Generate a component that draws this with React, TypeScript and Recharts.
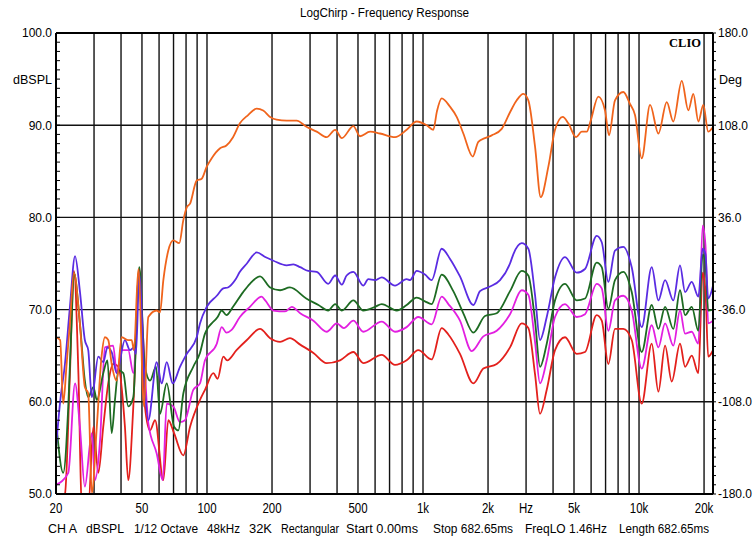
import React from 'react';
import { LineChart, Line, XAxis, YAxis, ReferenceLine } from 'recharts';

// [Hz, dBSPL] readings for each trace
type Pt = [number, number];

const ORANGE: Pt[] = [
  [20, 67], [20.9, 66.7], [21.6, 59.8], [22.4, 64.1], [23.2, 68.5], [24.2, 74], [25.8, 68.5],
  [27.2, 61.6], [28.2, 60.9], [29.3, 50.1], [30.9, 57.3], [32.5, 64.9], [33.7, 67], [34.9, 66.7],
  [36.2, 64.1], [38.2, 62.3], [40.3, 67], [43.2, 66.7], [44.8, 66.7], [45.9, 65.6], [48.1, 74.4],
  [51.1, 59.5], [53.5, 69.2], [58.5, 69.9], [60.6, 69.7], [62.8, 73.2], [66.2, 76.4], [69.8, 77.5],
  [74.4, 77.2], [77.7, 79.7], [80.6, 81.1], [83.5, 81.5], [89.6, 84], [94.5, 84.2], [99.7, 85.5],
  [105, 86.4], [115, 87.5], [123, 87.8], [132, 88.7], [142, 90.2], [155, 91.1], [170, 91.8],
  [182, 91.6], [196, 90.9], [210, 90.6], [234, 90.5], [260, 90.5], [290, 89.8], [322, 89.3],
  [358, 88.7], [392, 89.5], [421, 88.6], [476, 89.9], [511, 88.8], [569, 89.3], [632, 89.1],
  [742, 88.7], [840, 89.5], [935, 90.4], [1040, 90], [1116, 89.5], [1160, 91.5], [1220, 92.9],
  [1334, 92], [1432, 90.9], [1537, 89.1], [1699, 86.6], [1803, 88.2], [1936, 88.6], [2080, 88.9],
  [2314, 89.6], [2528, 91.4], [2715, 92.7], [2913, 93.4], [3073, 92.7], [3300, 87.7], [3507, 82.2],
  [3804, 85.5], [4084, 89.5], [4434, 90.9], [4707, 90.2], [5108, 88.7], [5429, 89.3], [5727, 89.3],
  [5976, 90.5], [6480, 93.1], [6960, 91.6], [7260, 88.9], [7740, 92.7], [8460, 93.6], [9080, 92.3],
  [9580, 91.1], [10290, 86.4], [11250, 92.2], [12290, 89.1], [13440, 92.5], [14410, 90.4],
  [15770, 94.8], [16910, 91.6], [17840, 93.4], [18820, 90.4], [19850, 92.2], [20900, 89.3],
  [22000, 89.8],
];

const PURPLE: Pt[] = [
  [20, 55], [20.9, 60], [22, 64.1], [23.2, 70.3], [24.5, 75.8], [25.8, 72], [27.2, 66.7],
  [28.2, 65.6], [29.3, 60.5], [31.4, 64.9], [33.1, 64.3], [34.6, 65.9], [36.2, 65.4], [38.2, 63.1],
  [41.7, 66.7], [44, 65.6], [45.9, 65.9], [46.9, 65.2], [48.6, 73.8], [51.6, 61.3], [53.5, 58],
  [58.5, 64.3], [61.7, 62], [65.1, 64.3], [69.4, 62], [75, 63.8], [80.6, 65.2], [89.6, 67],
  [92.8, 68.5], [99.7, 70.3], [111, 71.5], [119, 72.3], [125, 72.4], [135, 73.2], [142, 74.1],
  [153, 75], [170, 76.2], [186, 75.7], [203, 75.3], [234, 74.8], [251, 74.9], [270, 74.6],
  [294, 74.2], [322, 74.1], [364, 72.8], [392, 73.7], [421, 72.7], [443, 73.7], [476, 74.1],
  [529, 72.6], [558, 73.3], [600, 73.2], [644, 73.5], [742, 72.6], [840, 73.3], [871, 73.2],
  [935, 74.2], [1021, 73.8], [1097, 73.2], [1220, 76.6], [1334, 75.5], [1483, 73.6], [1710, 70.5],
  [1836, 72], [2043, 72.5], [2273, 73.2], [2528, 75], [2618, 76], [2863, 77.2], [3073, 76.6],
  [3300, 71.6], [3480, 66.7], [3739, 69.2], [4084, 73.5], [4544, 75.7], [5147, 74], [5623, 74.4],
  [6370, 78], [6720, 77.3], [7210, 73], [7740, 76.4], [8460, 76.8], [9250, 74.6], [10290, 68.1],
  [11450, 74.6], [12290, 71], [13200, 73.2], [14410, 71], [15480, 74.8], [16330, 71.9],
  [17540, 73], [18820, 71.4], [19700, 76.6], [20300, 76], [20900, 71.2], [22000, 72.6],
];

const GREEN: Pt[] = [
  [20, 58], [21.6, 52.3], [22.8, 59.5], [23.6, 68.5], [24.2, 74], [25.8, 68.5], [27.2, 62.3],
  [28.2, 60.5], [29.8, 61.6], [30.9, 60.2], [33.1, 63.1], [34.6, 64.5], [36.2, 56.6], [37.5, 60.2],
  [38.9, 63.4], [41, 63.1], [43.2, 59.5], [45.6, 60.5], [48.6, 74.6], [51.6, 63.8], [54.5, 62.3],
  [58.1, 63.8], [60.6, 58.7], [65.1, 62], [70.4, 57.3], [73.7, 56.9], [77.7, 60.9], [86.4, 63.8],
  [92.8, 65.3], [97.9, 67.4], [112, 69.2], [117, 69.9], [123, 69.4], [132, 70.3], [147, 71.9],
  [158, 72.8], [176, 73.6], [196, 72.4], [218, 72.1], [242, 72.4], [288, 71.2], [328, 70.5],
  [364, 69.9], [392, 70.6], [421, 69.9], [476, 71], [529, 69.9], [600, 70.3], [644, 70.6],
  [756, 69.9], [840, 70.5], [935, 71.3], [1021, 70.9], [1097, 70.6], [1220, 73.8], [1381, 72],
  [1537, 69.6], [1710, 67.5], [1936, 69.3], [2194, 69.6], [2528, 72], [2863, 74.2], [3073, 73.7],
  [3300, 68.8], [3480, 63.8], [3739, 66.3], [4084, 71], [4544, 72.8], [5147, 71], [5623, 71.2],
  [6370, 75.1], [6720, 74.6], [7210, 70.1], [7740, 73.2], [8460, 74.1], [9250, 71.9],
  [10290, 65.4], [11450, 70.5], [12290, 67.9], [13200, 70.3], [14410, 67.9], [15480, 72.1],
  [16330, 69.4], [17540, 70.3], [18820, 67.7], [19700, 76], [20300, 75], [20900, 69.9], [22000, 70],
];

const MAGENTA: Pt[] = [
  [20, 51], [22.8, 52.3], [24.5, 62], [25.8, 57.3], [27.2, 50.8], [29.3, 56.6], [30.3, 51.5],
  [32, 55.9], [33.7, 65.9], [36.8, 66.1], [38.2, 63.1], [40.3, 65.6], [43.2, 65.6], [45.6, 63.1],
  [48.6, 74], [50.7, 66.7], [53.5, 57.7], [58.5, 54.4], [62.4, 51.5], [65.1, 59.8], [69.8, 59.5],
  [75, 57.8], [79.1, 58], [86.4, 61.3], [92.8, 62], [97.9, 64.5], [111, 66.3], [117, 68.1],
  [123, 67.5], [130, 67.8], [142, 69.2], [158, 70.3], [179, 71.4], [186, 71], [203, 69.9],
  [230, 69.8], [247, 70.3], [270, 69.6], [311, 68.8], [358, 67.6], [399, 68.5], [430, 68],
  [476, 68.8], [529, 67.6], [644, 68.7], [742, 67.6], [840, 68.1], [951, 69.2], [1097, 68.4],
  [1220, 71.4], [1310, 70.6], [1483, 68.8], [1681, 65.5], [1902, 67.1], [2194, 67.7], [2528, 69.5],
  [2863, 72.1], [3073, 71.6], [3300, 66.5], [3480, 62], [3739, 64.5], [4084, 69.2], [4544, 70.6],
  [5147, 69.2], [5623, 69.5], [6370, 72.8], [6720, 72.3], [7210, 67.7], [7740, 71], [8460, 71.5],
  [9250, 69.9], [10290, 63.6], [11450, 68.3], [12290, 65.9], [13200, 68.5], [14410, 66.1],
  [15480, 69.9], [16330, 67.4], [17540, 67.6], [18820, 66.3], [19700, 79.1], [20300, 77],
  [20900, 68.5], [22000, 68.8],
];

const RED: Pt[] = [
  [20, 49], [22, 50], [23.2, 63], [24.2, 74.2], [25.4, 63], [26.3, 49], [28.2, 48.5], [29.8, 57.3],
  [31.4, 52.3], [33.1, 57.3], [34.9, 62], [36.8, 64.1], [38.9, 63.8], [41.7, 57.3], [43.2, 51.5],
  [45.6, 59.5], [48.6, 74.4], [51.6, 59.5], [54.5, 56.9], [57.5, 58], [62.8, 51.5], [66.2, 58],
  [70.4, 56.6], [77.7, 54.2], [83.5, 57.3], [92.8, 60.2], [97.9, 61.3], [107, 63.1], [112, 62.5],
  [119, 64.9], [124, 64.5], [137, 65.6], [153, 66.7], [176, 67.9], [196, 66.9], [218, 66.5],
  [242, 66.9], [270, 66.2], [311, 65.3], [358, 64.2], [413, 64.5], [476, 65.4], [529, 64.2],
  [644, 65.1], [742, 64], [840, 64.5], [951, 65.6], [1097, 64.6], [1220, 68], [1310, 67.3],
  [1483, 65.2], [1710, 62], [1902, 63.6], [2194, 64.1], [2528, 65.9], [2863, 68.5], [3073, 68],
  [3300, 63], [3480, 58.7], [3739, 61.3], [4084, 65.6], [4544, 67], [5147, 65.2], [5623, 65.4],
  [6370, 69.4], [6720, 68.8], [7210, 64.1], [7740, 67.9], [8460, 67.9], [9250, 66.7],
  [10290, 59.8], [11450, 66.3], [12290, 61.1], [13200, 66.1], [14170, 62.2], [15480, 66.3],
  [16330, 63.8], [17540, 65], [18820, 63.1], [19700, 74], [20300, 72], [20900, 64.9], [22000, 65.6],
];

const X_TICKS = [20, 50, 100, 200, 500, 1000, 2000, 3000, 5000, 10000, 20000];
const X_LABELS = ['20', '50', '100', '200', '500', '1k', '2k', 'Hz', '5k', '10k', '20k'];
const GRID_HZ = [
  30, 40, 50, 60, 70, 80, 90, 100, 200, 300, 400, 500, 600, 700, 800, 900,
  1000, 2000, 3000, 4000, 5000, 6000, 7000, 8000, 9000, 10000, 20000,
];
const GRID_DB = [60, 70, 80, 90];
const DB_TICKS = Array.from({ length: 51 }, (_, i) => 50 + i);
// right axis: same tick rows as dB, relabelled in degrees (-180..180)
const DEG_PER_DB = 7.2;

const FOOTER = ['CH A', 'dBSPL', '1/12 Octave', '48kHz', '32K', 'Rectangular', 'Start 0.00ms',
  'Stop 682.65ms', 'FreqLO 1.46Hz', 'Length 682.65ms'];
const FOOTER_X = [48, 86, 134, 207, 249, 281, 346, 433, 525, 619];
const FOOTER_W = [29, 38, 64, 33, 23, 58, 72, 80, 82, 90];

const FONT = "'Liberation Sans', Arial, sans-serif";

const toPts = (rows: Pt[]) => rows.map(([f, v]) => ({ f, v }));

const LeftTick = (props: any) => {
  const { x, y, payload } = props;
  const v = payload.value as number;
  return (
    <g>
      <line x1={x} x2={x + 4} y1={y} y2={y} stroke="#000" strokeWidth={1} />
      {v % 10 === 0 && (
        <text x={x - 4} y={y} dy="0.36em" textAnchor="end" fontSize={12} fontFamily={FONT} fill="#000">
          {v.toFixed(1)}
        </text>
      )}
    </g>
  );
};

const RightTick = (props: any) => {
  const { x, y, payload } = props;
  const v = payload.value as number;
  const deg = (v - 50) * DEG_PER_DB - 180;
  return (
    <g>
      <line x1={x} x2={x + 3} y1={y} y2={y} stroke="#000" strokeWidth={1} />
      {v % 10 === 0 && (
        <text x={x + 5} y={y} dy="0.36em" textAnchor="start" fontSize={12} fontFamily={FONT} fill="#000">
          {deg.toFixed(1)}
        </text>
      )}
    </g>
  );
};

const BottomTick = (props: any) => {
  const { x, y, index } = props;
  return (
    <text
      transform={`translate(${x},${y + 19}) scale(0.82,1)`}
      textAnchor="middle"
      fontSize={14}
      fontFamily={FONT}
      fill="#000"
    >
      {X_LABELS[index]}
    </text>
  );
};

export default function App() {
  const series = [
    { rows: RED, color: '#e3201c' },
    { rows: MAGENTA, color: '#e21fe0' },
    { rows: GREEN, color: '#1d6b22' },
    { rows: PURPLE, color: '#5a2ce2' },
    { rows: ORANGE, color: '#f0641c' },
  ];

  return (
    <div style={{ position: 'absolute', left: 0, top: 0, width: 756, height: 539, background: '#fff' }}>
      <LineChart width={756} height={539} margin={{ top: 33, right: 0, bottom: 0, left: 0 }}>
        <XAxis
          dataKey="f"
          type="number"
          scale="log"
          domain={[20, 22000]}
          allowDataOverflow
          ticks={X_TICKS}
          interval={0}
          height={45}
          tickSize={0}
          tickMargin={0}
          tickLine={false}
          axisLine={{ stroke: '#000', strokeWidth: 2 }}
          tick={(p: any) => <BottomTick {...p} />}
        />
        <YAxis
          yAxisId="l"
          type="number"
          domain={[50, 100]}
          allowDataOverflow
          ticks={DB_TICKS}
          interval={0}
          width={56}
          tickSize={0}
          tickMargin={0}
          tickLine={false}
          axisLine={{ stroke: '#000', strokeWidth: 2 }}
          tick={(p: any) => <LeftTick {...p} />}
        />
        <YAxis
          yAxisId="r"
          orientation="right"
          type="number"
          domain={[50, 100]}
          allowDataOverflow
          ticks={DB_TICKS}
          interval={0}
          width={43}
          tickSize={0}
          tickMargin={0}
          tickLine={false}
          axisLine={{ stroke: '#000', strokeWidth: 2 }}
          tick={(p: any) => <RightTick {...p} />}
        />
        {GRID_HZ.map((f) => (
          <ReferenceLine key={`v${f}`} x={f} yAxisId="l" stroke="#111" strokeWidth={1.4} />
        ))}
        {GRID_DB.map((d) => (
          <ReferenceLine key={`h${d}`} y={d} yAxisId="l" stroke="#111" strokeWidth={1.4} />
        ))}
        <ReferenceLine y={100} yAxisId="l" stroke="#000" strokeWidth={2} />
        {series.map((s, i) => (
          <Line
            key={i}
            data={toPts(s.rows)}
            dataKey="v"
            yAxisId={i === 0 ? 'r' : 'l'}
            type="monotone"
            stroke={s.color}
            strokeWidth={1.8}
            dot={false}
            activeDot={false}
            isAnimationActive={false}
          />
        ))}
      </LineChart>
      <svg
        width={756}
        height={539}
        style={{ position: 'absolute', left: 0, top: 0, pointerEvents: 'none' }}
        fontFamily={FONT}
      >
        <text x={300} y={17} fontSize={12.5} textLength={169} lengthAdjust="spacingAndGlyphs" fill="#000">
          LogChirp - Frequency Response
        </text>
        <text x={13} y={83.5} fontSize={12} textLength={39} lengthAdjust="spacingAndGlyphs" fill="#000">
          dBSPL
        </text>
        <text x={719} y={83.5} fontSize={12} textLength={23} lengthAdjust="spacingAndGlyphs" fill="#000">
          Deg
        </text>
        <text
          x={669}
          y={46.5}
          fontSize={11.5}
          fontWeight="bold"
          fontFamily="'Liberation Serif', 'Times New Roman', serif"
          textLength={32}
          lengthAdjust="spacingAndGlyphs"
          fill="#000"
        >
          CLIO
        </text>
        {FOOTER.map((t, i) => (
          <text
            key={t}
            x={FOOTER_X[i]}
            y={533}
            fontSize={12}
            textLength={FOOTER_W[i]}
            lengthAdjust="spacingAndGlyphs"
            fill="#000"
          >
            {t}
          </text>
        ))}
      </svg>
    </div>
  );
}
